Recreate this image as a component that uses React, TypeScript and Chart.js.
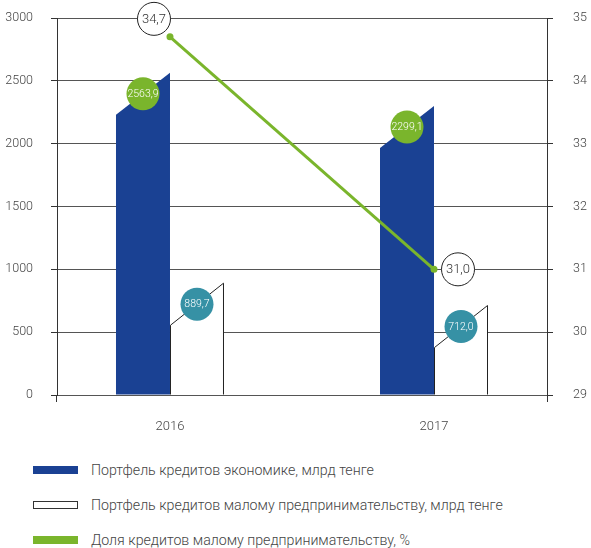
import React, { useEffect, useRef } from "react";
import { Chart, registerables } from "chart.js";

Chart.register(...registerables);

const categories = ["2016", "2017"];
const economyLoans = [2563.9, 2299.1];
const smallBizLoans = [889.7, 712.0];
const smallBizShare = [34.7, 31.0];
const leftTicks = [0, 500, 1000, 1500, 2000, 2500, 3000];
const rightTicks = [29, 30, 31, 32, 33, 34, 35];

const legendItems = [
  "Портфель кредитов экономике, млрд тенге",
  "Портфель кредитов малому предпринимательству, млрд тенге",
  "Доля кредитов малому предпринимательству, %",
];

const BLUE = "#1a4193";
const GREEN = "#7ab52c";
const TEAL = "#3691a5";
const SLANT = 42;
const FONT = "Roboto, 'Noto Sans', sans-serif";
const lineLabelOffsets = [
  { dx: -16, dy: -18 },
  { dx: 24, dy: 0 },
];

const fmt = (v: number) => v.toFixed(1).replace(".", ",");

const slantPlugin = {
  id: "slantBars",
  beforeDatasetDraw(chart: any, args: any) {
    const ds = chart.data.datasets[args.index];
    if (ds.type !== "bar") return;
    const ctx = chart.ctx;
    const meta = args.meta;
    ctx.save();
    meta.data.forEach((el: any) => {
      const { x, y, base, width } = el.getProps(["x", "y", "base", "width"], true);
      const l = x - width / 2;
      const r = x + width / 2;
      ctx.beginPath();
      ctx.moveTo(l, base);
      ctx.lineTo(l, y + SLANT);
      ctx.lineTo(r, y);
      ctx.lineTo(r, base);
      ctx.closePath();
      ctx.fillStyle = ds.slantFill;
      ctx.fill();
      if (ds.slantStroke) {
        ctx.beginPath();
        ctx.moveTo(l + 0.5, base);
        ctx.lineTo(l + 0.5, y + SLANT);
        ctx.lineTo(r - 0.5, y);
        ctx.lineTo(r - 0.5, base);
        ctx.strokeStyle = ds.slantStroke;
        ctx.lineWidth = 1;
        ctx.stroke();
      }
    });
    ctx.restore();
    return false;
  },
  afterDatasetsDraw(chart: any) {
    const ctx = chart.ctx;
    ctx.save();
    chart.data.datasets.forEach((ds: any, di: number) => {
      const meta = chart.getDatasetMeta(di);
      meta.data.forEach((el: any, i: number) => {
        const v = ds.data[i].y;
        const { x, y } = el.getProps(["x", "y"], true);
        ctx.textAlign = "center";
        ctx.textBaseline = "middle";
        if (ds.type === "bar") {
          const cy = y + SLANT / 2;
          ctx.beginPath();
          ctx.arc(x, cy, 16.5, 0, Math.PI * 2);
          ctx.fillStyle = ds.labelFill;
          ctx.fill();
          ctx.fillStyle = "#ffffff";
          ctx.font = `300 10.5px ${FONT}`;
          ctx.fillText(fmt(v), x, cy + 0.5);
        } else {
          const o = lineLabelOffsets[i];
          const cx = x + o.dx;
          const cy = y + o.dy;
          ctx.beginPath();
          ctx.arc(cx, cy, 16.5, 0, Math.PI * 2);
          ctx.fillStyle = "#ffffff";
          ctx.fill();
          ctx.strokeStyle = "#222";
          ctx.lineWidth = 1;
          ctx.stroke();
          ctx.fillStyle = "#333";
          ctx.font = `300 13px ${FONT}`;
          ctx.fillText(fmt(v), cx, cy + 0.5);
        }
      });
    });
    ctx.restore();
  },
  afterDraw(chart: any) {
    const { left, right, bottom } = chart.chartArea;
    const ctx = chart.ctx;
    ctx.save();
    ctx.strokeStyle = "#333";
    ctx.lineWidth = 1;
    ctx.beginPath();
    ctx.moveTo(Math.round(left) - 0.5, bottom);
    ctx.lineTo(Math.round(left) - 0.5, bottom + 7);
    ctx.moveTo(Math.round(right) + 0.5, bottom);
    ctx.lineTo(Math.round(right) + 0.5, bottom + 7);
    ctx.stroke();
    ctx.restore();
  },
};

export default function App() {
  const ref = useRef<HTMLCanvasElement>(null);
  useEffect(() => {
    document.body.style.margin = "0";
    const chart = new Chart(ref.current as HTMLCanvasElement, {
      type: "bar",
      data: {
        datasets: [
          {
            type: "line",
            label: legendItems[2],
            data: smallBizShare.map((y, i) => ({ x: i, y })),
            yAxisID: "y1",
            borderColor: GREEN,
            backgroundColor: GREEN,
            borderWidth: 3,
            pointRadius: 3.5,
            pointBackgroundColor: GREEN,
            pointBorderWidth: 0,
            order: 0,
          } as any,
          {
            type: "bar",
            label: legendItems[0],
            data: economyLoans.map((y, i) => ({ x: i, y })),
            yAxisID: "y",
            backgroundColor: "transparent",
            slantFill: BLUE,
            labelFill: GREEN,
            barThickness: 54,
            order: 1,
          } as any,
          {
            type: "bar",
            label: legendItems[1],
            data: smallBizLoans.map((y, i) => ({ x: i, y })),
            yAxisID: "y",
            backgroundColor: "transparent",
            slantFill: "#ffffff",
            slantStroke: "#222",
            labelFill: TEAL,
            barThickness: 54,
            order: 1,
          } as any,
        ],
      },
      options: {
        animation: false,
        responsive: false,
        layout: { padding: { top: 18, left: 0, right: 0, bottom: 0 } },
        plugins: { legend: { display: false }, tooltip: { enabled: false } },
        scales: {
          x: {
            type: "linear",
            position: "bottom",
            offset: false,
            min: -0.428,
            max: 1.428,
            grid: { display: false, drawTicks: false, offset: false },
            border: { display: false },
            afterBuildTicks: (s: any) => {
              s.ticks = categories.map((_, i) => ({ value: i }));
            },
            ticks: {
              padding: 24,
              color: "#444",
              font: { family: FONT, size: 13, weight: "300" as any },
              callback: (v: any) => categories[v] ?? "",
            },
            afterFit: (s: any) => {
              s.height = 50;
              s.paddingLeft = 0;
              s.paddingRight = 0;
            },
          },
          y: {
            type: "linear",
            position: "left",
            min: 0,
            max: 3000,
            afterBuildTicks: (s: any) => {
              s.ticks = leftTicks.map((value) => ({ value }));
            },
            grid: { color: "#555", tickLength: 6, tickColor: "#333" },
            border: { color: "#333", width: 1 },
            ticks: {
              padding: 18,
              color: "#444",
              font: { family: FONT, size: 12.5, weight: "300" as any },
              callback: (v: any) => String(v),
            },
            afterFit: (s: any) => {
              s.width = 57;
              s.paddingTop = 0;
              s.paddingBottom = 0;
            },
          },
          y1: {
            type: "linear",
            position: "right",
            min: 29,
            max: 35,
            afterBuildTicks: (s: any) => {
              s.ticks = rightTicks.map((value) => ({ value }));
            },
            grid: { drawOnChartArea: false, tickLength: 6, color: "#333" },
            border: { color: "#333", width: 1 },
            ticks: {
              padding: 20,
              color: "#444",
              font: { family: FONT, size: 12.5, weight: "300" as any },
              callback: (v: any) => String(v),
            },
            afterFit: (s: any) => {
              s.width = 44;
              s.paddingTop = 0;
              s.paddingBottom = 0;
            },
          },
        },
      } as any,
      plugins: [slantPlugin as any],
    });
    return () => chart.destroy();
  }, []);

  const rowTops = [470, 505, 540];
  return (
    <div style={{ position: "relative", width: 591, height: 548, background: "#fff", fontFamily: FONT }}>
      <canvas ref={ref} width={591} height={445} style={{ display: "block" }} />
      {legendItems.map((t, i) => (
        <div key={i} style={{ position: "absolute", left: 0, top: rowTops[i] - 10, height: 20, width: 591 }}>
          <div
            style={{
              position: "absolute",
              left: 33,
              top: 6,
              width: 45,
              height: 8,
              boxSizing: "border-box",
              background: i === 0 ? BLUE : i === 1 ? "#fff" : GREEN,
              border: i === 1 ? "1px solid #333" : "none",
            }}
          />
          <div
            style={{
              position: "absolute",
              left: 91,
              top: 0,
              lineHeight: "20px",
              fontSize: 14.2,
              fontWeight: 300,
              color: "#444",
              whiteSpace: "nowrap",
            }}
          >
            {t}
          </div>
        </div>
      ))}
    </div>
  );
}
